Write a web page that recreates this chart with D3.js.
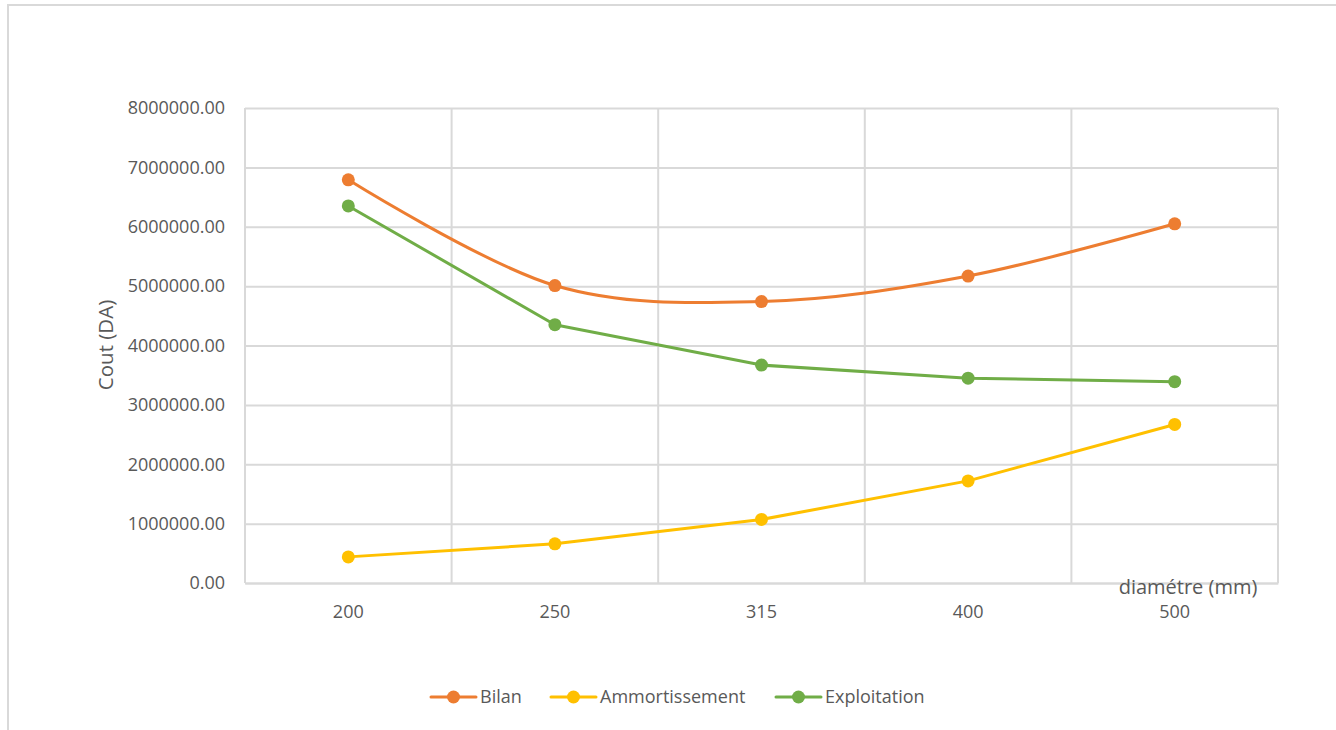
<!DOCTYPE html>
<html>
<head>
<meta charset="utf-8">
<script src="https://cdn.jsdelivr.net/npm/d3@7"></script>
<style>
  html, body { margin: 0; padding: 0; background: #fff; }
  svg { display: block; }
  text { font-family: "Open Sans", "Noto Sans", sans-serif; fill: #595959; }
</style>
</head>
<body>
<svg id="chart" width="1336" height="730"></svg>
<script>
// Diameters (mm) on the category axis
const diameters = ["200", "250", "315", "400", "500"];

// Costs (DA) per diameter
const bilan          = [6790000, 5010000, 4740000, 5170000, 6050000];
const ammortissement = [440000, 660000, 1070000, 1720000, 2670000];
const exploitation   = [6350000, 4350000, 3670000, 3450000, 3390000];

const yTicks = [0, 1000000, 2000000, 3000000, 4000000, 5000000, 6000000, 7000000, 8000000];

// Bilan is drawn as a smoothed curve, the two components as straight segments
const series = [
  { name: "Bilan", values: bilan, color: "#ED7D31", curve: d3.curveCardinal.tension(0) },
  { name: "Ammortissement", values: ammortissement, color: "#FFC000", curve: d3.curveLinear },
  { name: "Exploitation", values: exploitation, color: "#70AD47", curve: d3.curveLinear }
];

const svg = d3.select("#chart");
const W = 1336, H = 730;
const plot = { left: 245, right: 1278, top: 108, bottom: 583 };
const gridColor = "#d9d9d9";

// outer chart frame (top and left edges)
svg.append("path")
  .attr("d", `M8,730 L8,5 L${W},5`)
  .attr("fill", "none")
  .attr("stroke", gridColor)
  .attr("stroke-width", 2);

const x = d3.scaleBand().domain(diameters).range([plot.left, plot.right]).padding(0);
const y = d3.scaleLinear().domain([0, 8000000]).range([plot.bottom, plot.top]);

// horizontal gridlines + y tick labels
const yAxis = d3.axisLeft(y).tickValues(yTicks).tickFormat(d3.format(".2f"))
  .tickSize(-(plot.right - plot.left)).tickPadding(20);
const gy = svg.append("g").attr("transform", `translate(${plot.left},0)`).call(yAxis);
gy.select(".domain").remove();
gy.selectAll(".tick line").attr("stroke", gridColor).attr("stroke-width", 2);
gy.selectAll(".tick text").style("font-size", "18px").attr("fill", "#595959");

// vertical gridlines at category boundaries
const bounds = diameters.map(d => x(d)).concat([x.range()[1]]);
svg.append("g").selectAll("line").data(bounds).join("line")
  .attr("x1", d => d).attr("x2", d => d)
  .attr("y1", plot.top).attr("y2", plot.bottom)
  .attr("stroke", gridColor).attr("stroke-width", 2);

// x axis labels
const xAxis = d3.axisBottom(x).tickSize(0).tickPadding(22);
const gx = svg.append("g").attr("transform", `translate(0,${plot.bottom})`).call(xAxis);
gx.select(".domain").attr("stroke", gridColor).attr("stroke-width", 2);
gx.selectAll(".tick text").style("font-size", "18px").attr("fill", "#595959");

// series lines and markers
const cx = d => x(d) + x.bandwidth() / 2;

series.forEach(s => {
  const line = d3.line().x((v, i) => cx(diameters[i])).y(v => y(v)).curve(s.curve);
  svg.append("path")
    .datum(s.values)
    .attr("d", line)
    .attr("fill", "none")
    .attr("stroke", s.color)
    .attr("stroke-width", 3)
    .attr("stroke-linecap", "round")
    .attr("stroke-linejoin", "round");
  svg.append("g").selectAll("circle").data(s.values).join("circle")
    .attr("cx", (v, i) => cx(diameters[i]))
    .attr("cy", v => y(v))
    .attr("r", 6.5)
    .attr("fill", s.color);
});

// axis titles
svg.append("text")
  .attr("transform", `translate(113,345) rotate(-90)`)
  .attr("text-anchor", "middle")
  .style("font-size", "20.5px")
  .text("Cout (DA)");

svg.append("text")
  .attr("x", 1188).attr("y", 594)
  .attr("text-anchor", "middle")
  .style("font-size", "20px")
  .text("diamétre (mm)");

// legend
const legendX = [431, 551, 776];
const legendY = 697;
const lg = svg.append("g");
series.forEach((s, i) => {
  const g = lg.append("g").attr("transform", `translate(${legendX[i]},${legendY})`);
  g.append("line").attr("x1", 0).attr("x2", 45).attr("y1", 0).attr("y2", 0)
    .attr("stroke", s.color).attr("stroke-width", 3).attr("stroke-linecap", "round");
  g.append("circle").attr("cx", 22.5).attr("cy", 0).attr("r", 6.5).attr("fill", s.color);
  g.append("text").attr("x", 49).attr("y", 0).attr("dy", "0.35em")
    .style("font-size", "18px").text(s.name);
});
</script>
</body>
</html>
